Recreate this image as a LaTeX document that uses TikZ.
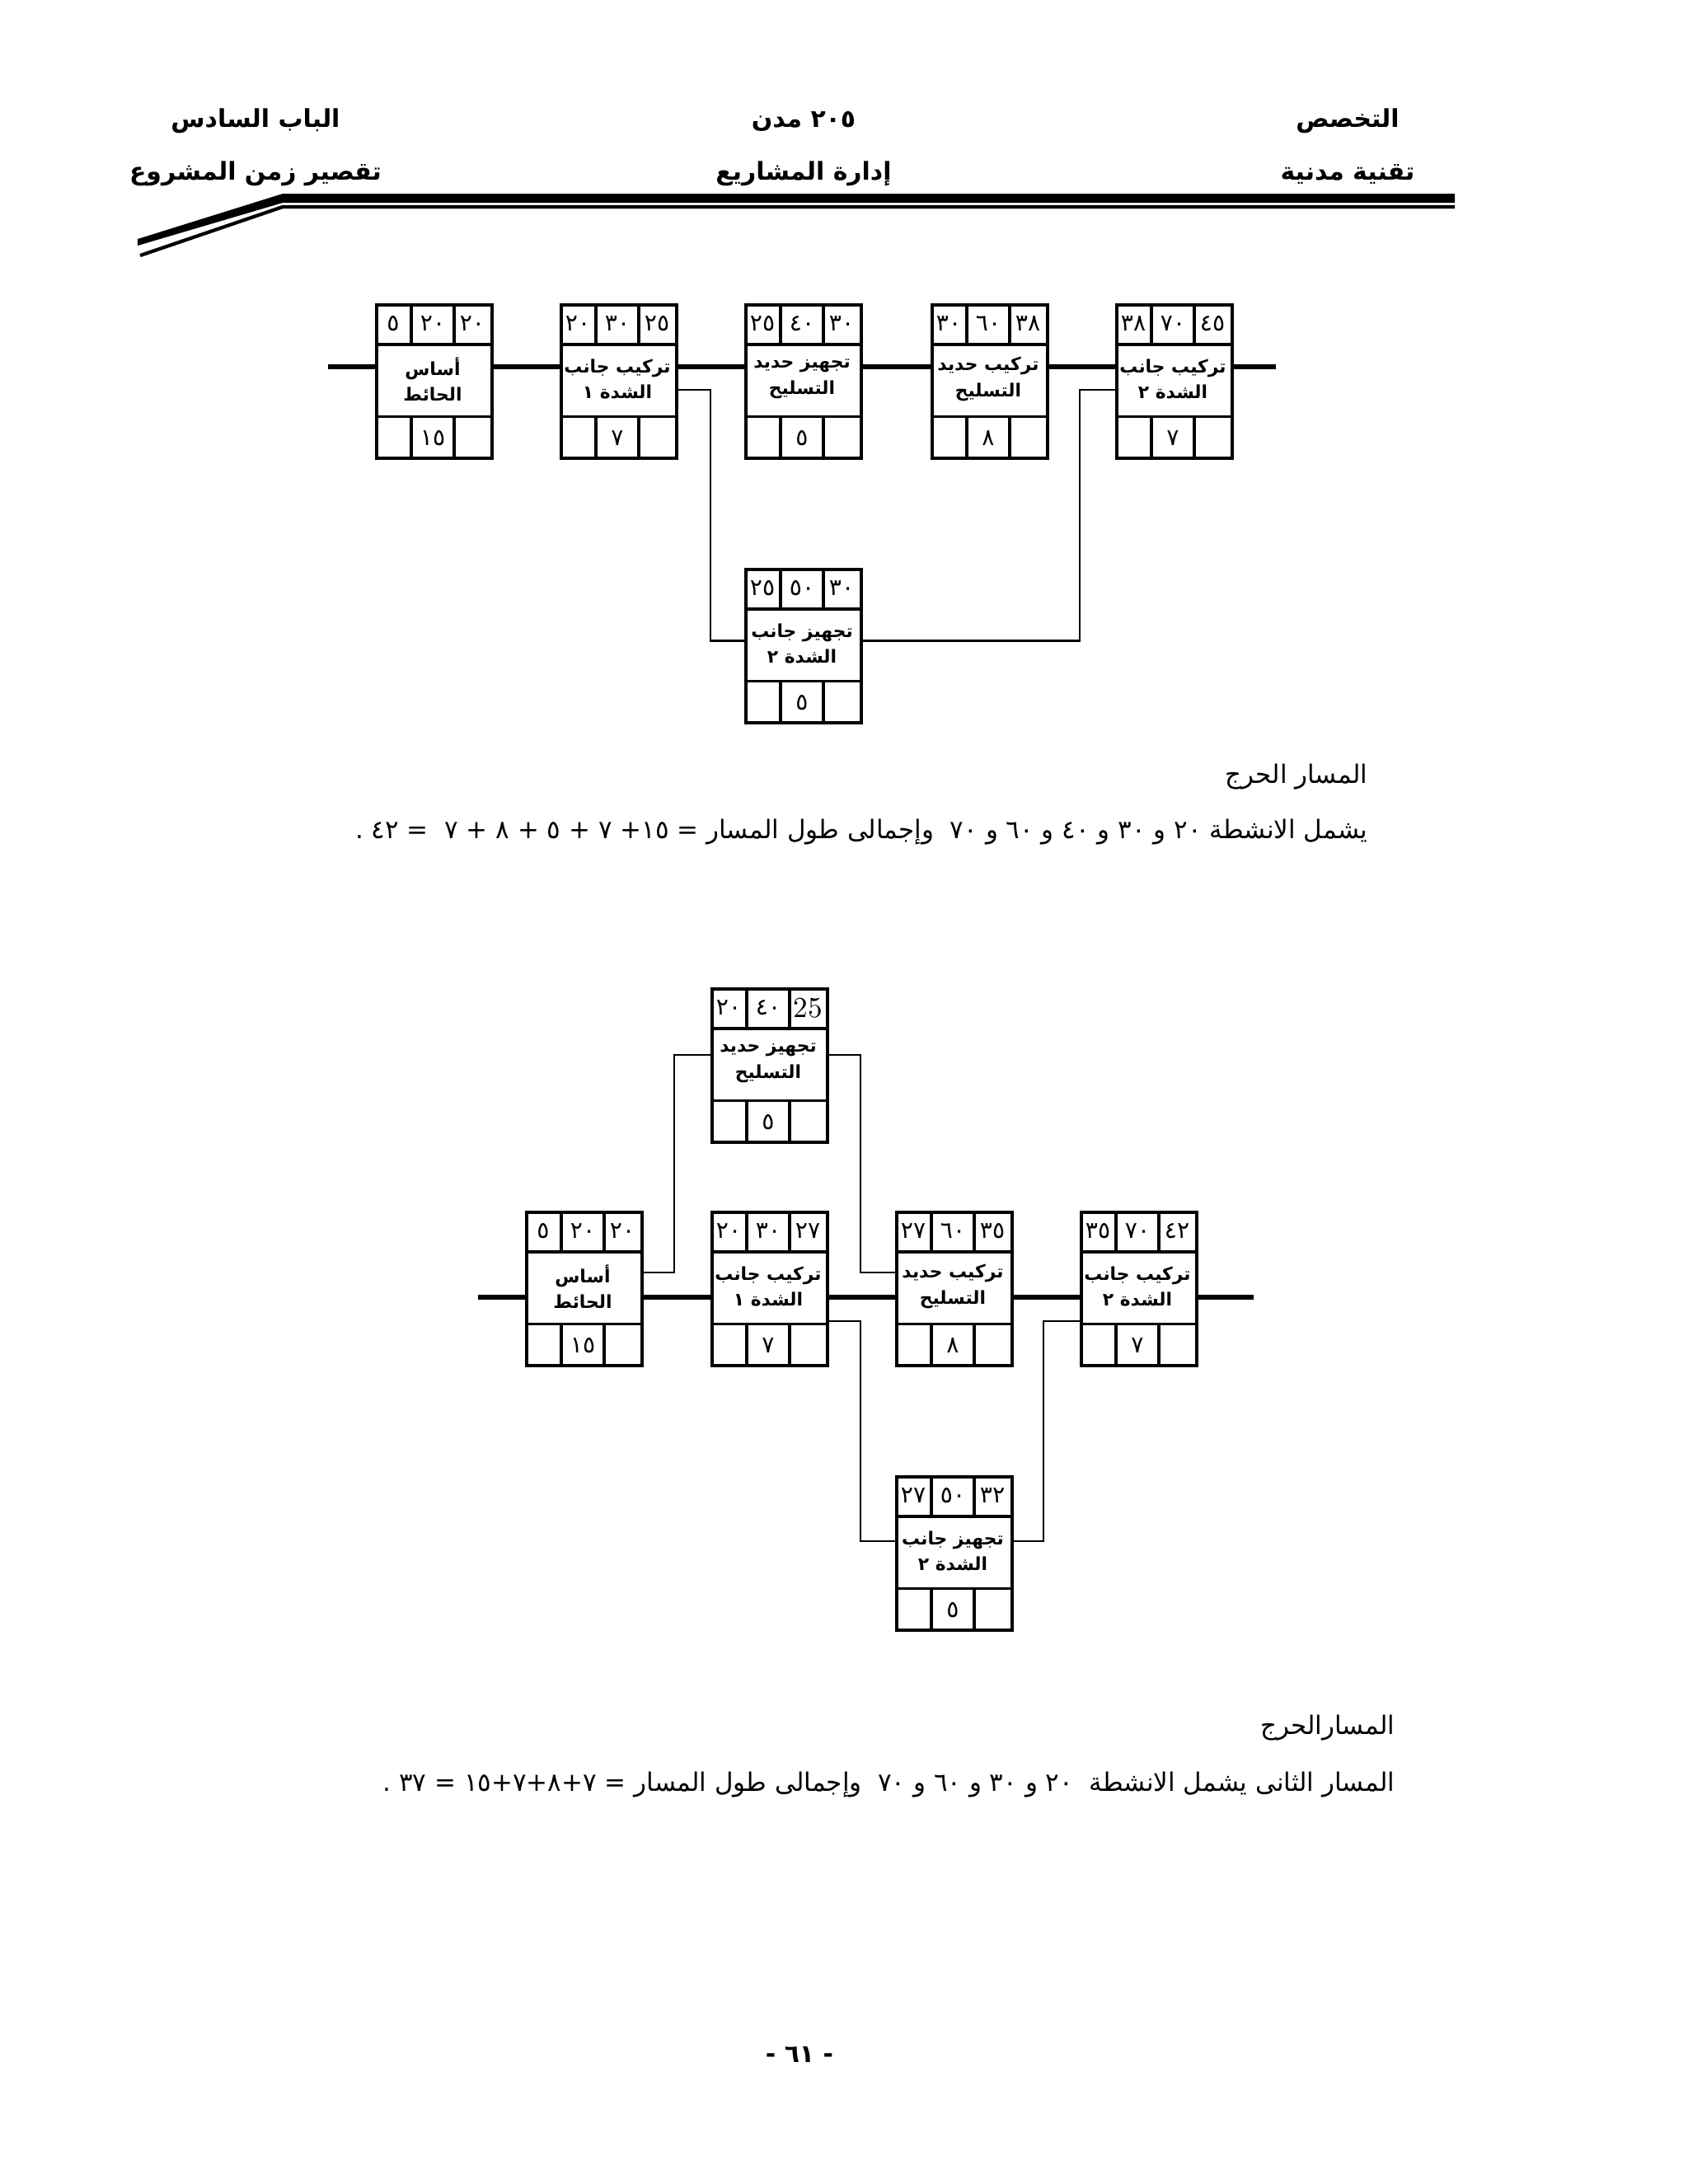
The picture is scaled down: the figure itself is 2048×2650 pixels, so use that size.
\documentclass[tikz,border=0pt]{standalone}
\usepackage{fontspec}
\usetikzlibrary{calc}
\TeXXeTstate=1
\newfontfamily\arabicfont[Script=Arabic]{DejaVu Sans}
\newfontfamily\nfont{DejaVu Sans}
\newcommand{\ar}[1]{{\arabicfont\beginR #1\endR}}
\newcommand{\nm}[1]{\beginL{\nfont #1}\endL}
\tikzset{
  boxst/.style={draw, line width=1pt, minimum width=1.4cm, minimum height=1.86cm, inner sep=0pt},
  mainln/.style={line width=1.5pt},
  conn/.style={line width=0.8pt},
  cell/.style={font=\nfont\fontsize{8}{9}\selectfont, inner sep=0pt},
  lbl/.style={font=\arabicfont\bfseries\fontsize{6.2}{9}\selectfont, align=center, inner sep=0pt},
  hdr/.style={font=\arabicfont\bfseries\fontsize{8.5}{13}\selectfont, inner sep=0pt},
  body/.style={font=\arabicfont\fontsize{8.8}{13}\selectfont, inner sep=0pt, anchor=east},
}
% \actbox{name}{x}{y}{left}{mid}{right}{line1}{line2}{dur}
\newcommand{\actbox}[9]{%
  \node[boxst, anchor=north west] (#1) at (#2,#3) {};
  \draw[line width=1pt] ($(#1.north west)+(0,50)$) -- ($(#1.north east)+(0,50)$)
    ($(#1.south west)+(0,-52)$) -- ($(#1.south east)+(0,-52)$)
    ($(#1.north west)+(44,0)$) -- ($(#1.north west)+(44,50)$)
    ($(#1.north west)+(96,0)$) -- ($(#1.north west)+(96,50)$)
    ($(#1.south west)+(44,0)$) -- ($(#1.south west)+(44,-52)$)
    ($(#1.south west)+(96,0)$) -- ($(#1.south west)+(96,-52)$);
  \node[cell] (#1-a) at ($(#1.north west)+(22,25)$) {#4};
  \node[cell] (#1-b) at ($(#1.north west)+(70,25)$) {#5};
  \node[cell] (#1-c) at ($(#1.north west)+(118,25)$) {#6};
  \node[lbl] (#1-l) at ($(#1.north west)+(70,92)$) {\ar{#7}\\\ar{#8}};
  \node[cell] (#1-d) at ($(#1.south west)+(70,-26)$) {#9};
}
\begin{document}
\begin{tikzpicture}[x=0.01cm,y=-0.01cm]
\useasboundingbox[fill=white] (0,0) rectangle (2048,2650);
% header
\node[hdr] (h1) at (1635,147) {\ar{التخصص}};
\node[hdr] (h2) at (1635,211) {\ar{تقنية مدنية}};
\node[hdr] (h3) at (975,147) {\ar{مدن} \nm{٢٠٥}};
\node[hdr] (h4) at (975,211) {\ar{إدارة المشاريع}};
\node[hdr] (h5) at (310,147) {\ar{الباب السادس}};
\node[hdr] (h6) at (310,211) {\ar{تقصير زمن المشروع}};
\fill (343,235) -- (1765,235) -- (1765,246) -- (343,246) -- (167,298) -- (167,290) -- cycle;
\draw[line width=1.2pt] (1765,251) -- (343,251) -- (170,310);
% diagram 1
\actbox{a1}{455}{368}{٥}{٢٠}{٢٠}{أساس}{الحائط}{١٥}
\actbox{a2}{679}{368}{٢٠}{٣٠}{٢٥}{تركيب جانب}{الشدة ١}{٧}
\actbox{a3}{903}{368}{٢٥}{٤٠}{٣٠}{تجهيز حديد}{التسليح}{٥}
\actbox{a4}{1129}{368}{٣٠}{٦٠}{٣٨}{تركيب حديد}{التسليح}{٨}
\actbox{a5}{1353}{368}{٣٨}{٧٠}{٤٥}{تركيب جانب}{الشدة ٢}{٧}
\actbox{a6}{903}{689}{٢٥}{٥٠}{٣٠}{تجهيز جانب}{الشدة ٢}{٥}
\coordinate (L1) at (398,445);
\coordinate (R1) at (1548,445);
\draw[mainln] (L1) -- (L1 -| a1.west) (a1.east |- L1) -- (L1 -| a2.west)
  (a2.east |- L1) -- (L1 -| a3.west) (a3.east |- L1) -- (L1 -| a4.west)
  (a4.east |- L1) -- (L1 -| a5.west) (a5.east |- L1) -- (R1);
\draw[conn] ($(a2.north east)+(0,105)$) -| ($(a6.west)+(-41,-6)$) -- ($(a6.west)+(0,-6)$);
\draw[conn] ($(a6.east)+(0,-6)$) -| ($(a5.north west)+(-43,105)$) -- ($(a5.north west)+(0,105)$);
\node[body] (t1) at (1660,942) {\ar{المسار الحرج}};
\node[body] (t2) at (1660,1010) {\ar{يشمل الانشطة \nm{٢٠} و \nm{٣٠} و \nm{٤٠} و \nm{٦٠} و \nm{٧٠}\ \ وإجمالى طول المسار \nm{.\ ٤٢ =\ \ ٧ + ٨ + ٥ + ٧ +١٥ =}}};
% diagram 2
\actbox{b1}{637}{1469}{٥}{٢٠}{٢٠}{أساس}{الحائط}{١٥}
\actbox{b2}{862}{1469}{٢٠}{٣٠}{٢٧}{تركيب جانب}{الشدة ١}{٧}
\actbox{b3}{1086}{1469}{٢٧}{٦٠}{٣٥}{تركيب حديد}{التسليح}{٨}
\actbox{b4}{1310}{1469}{٣٥}{٧٠}{٤٢}{تركيب جانب}{الشدة ٢}{٧}
\actbox{b5}{862}{1198}{٢٠}{٤٠}{\rmfamily\fontsize{10}{11}\selectfont 25}{تجهيز حديد}{التسليح}{٥}
\actbox{b6}{1086}{1790}{٢٧}{٥٠}{٣٢}{تجهيز جانب}{الشدة ٢}{٥}
\coordinate (L2) at (580,1574);
\coordinate (R2) at (1521,1574);
\draw[mainln] (L2) -- (L2 -| b1.west) (b1.east |- L2) -- (L2 -| b2.west)
  (b2.east |- L2) -- (L2 -| b3.west) (b3.east |- L2) -- (L2 -| b4.west)
  (b4.east |- L2) -- (R2);
\draw[conn] ($(b1.north east)+(0,75)$) -| ($(b5.north west)+(-44,82)$) -- ($(b5.north west)+(0,82)$);
\draw[conn] ($(b5.north east)+(0,82)$) -| ($(b3.north west)+(-42,75)$) -- ($(b3.north west)+(0,75)$);
\draw[conn] ($(b2.north east)+(0,134)$) -| ($(b6.north west)+(-42,80)$) -- ($(b6.north west)+(0,80)$);
\draw[conn] ($(b6.north east)+(0,80)$) -| ($(b4.north west)+(-44,134)$) -- ($(b4.north west)+(0,134)$);
\node[body] (t3) at (1693,2096) {\ar{المسارالحرج}};
\node[body] (t4) at (1693,2165) {\ar{المسار الثانى يشمل الانشطة\ \ \nm{٢٠} و \nm{٣٠} و \nm{٦٠} و \nm{٧٠}\ \ وإجمالى طول المسار \nm{.\ ٣٧ = ٧+٨+٧+١٥ =}}};
\node[hdr] (pg) at (970,2493) {\nm{- ٦١ -}};
\end{tikzpicture}
\end{document}
